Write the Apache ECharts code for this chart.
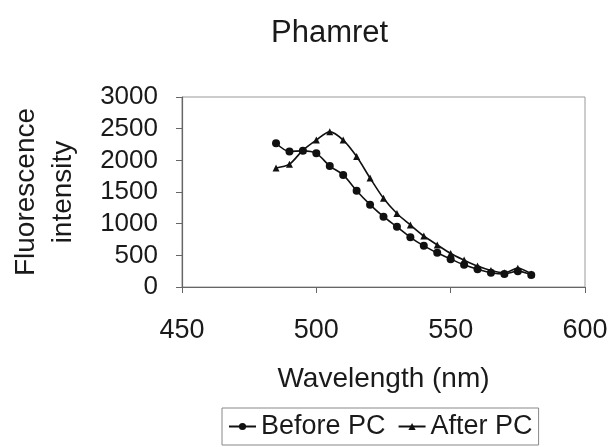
<!DOCTYPE html>
<html>
<head>
<meta charset="utf-8">
<script src="https://cdn.jsdelivr.net/npm/echarts@6/dist/echarts.min.js"></script>
<style>
    html, body {margin: 0; padding: 0; background: #fff;}
    #chart {width: 613px; height: 447px;}
</style>
</head>
<body>
<div id="chart"></div>
<script>
    // wavelength (nm) and intensities
    var wavelengths = [485, 490, 495, 500, 505, 510, 515, 520, 525, 530, 535, 540, 545, 550, 555, 560, 565, 570, 575, 580];
    var beforePC = [2270, 2140, 2150, 2110, 1910, 1770, 1520, 1300, 1110, 950, 785, 650, 540, 440, 350, 280, 225, 205, 250, 190];
    var afterPC = [1880, 1940, 2160, 2320, 2450, 2320, 2060, 1720, 1400, 1160, 980, 805, 665, 530, 425, 330, 260, 225, 295, 205];
    var xTicks = [450, 500, 550, 600];
    var yTicks = [0, 500, 1000, 1500, 2000, 2500, 3000];

    function pairs(ys) {
        return wavelengths.map(function (x, i) {
            return [x, ys[i]];
        });
    }

    var font = 'Liberation Sans, Arial, sans-serif';
    var chart = echarts.init(document.getElementById('chart'));
    var option = {
        animation: false,
        textStyle: {fontFamily: font, color: '#1a1a1a'},
        title: {
            text: 'Phamret',
            left: 266,
            top: 13,
            textStyle: {fontSize: 31, fontWeight: 'normal', color: '#1a1a1a', fontFamily: font}
        },
        grid: {
            left: 173,
            right: 28,
            top: 97,
            bottom: 160,
            show: true,
            borderColor: '#999',
            borderWidth: 1
        },
        legend: {
            left: 222,
            top: 408,
            orient: 'horizontal',
            padding: [5, 6, 5, 6],
            itemGap: 12,
            itemWidth: 27,
            itemHeight: 9,
            borderColor: '#888',
            borderWidth: 1,
            textStyle: {fontSize: 27, color: '#1a1a1a', fontFamily: font},
            data: ['Before PC', 'After PC']
        },
        xAxis: {
            type: 'value',
            min: xTicks[0],
            max: xTicks[xTicks.length - 1],
            interval: 50,
            name: 'Wavelength (nm)',
            nameLocation: 'middle',
            nameGap: 78,
            nameTextStyle: {fontSize: 28, color: '#1a1a1a'},
            axisLine: {lineStyle: {color: '#666', width: 1.2}},
            axisTick: {show: true, length: 6, lineStyle: {color: '#666'}},
            axisLabel: {fontSize: 27, color: '#1a1a1a', margin: 30},
            splitLine: {show: false}
        },
        yAxis: {
            type: 'value',
            min: yTicks[0],
            max: yTicks[yTicks.length - 1],
            interval: 500,
            name: 'Fluorescence\nintensity',
            nameLocation: 'middle',
            nameGap: 100,
            nameTextStyle: {fontSize: 28, color: '#1a1a1a', lineHeight: 37, align: 'center'},
            axisLine: {show: true, lineStyle: {color: '#666', width: 1.2}},
            axisTick: {show: true, length: 6, lineStyle: {color: '#666'}},
            axisLabel: {
                fontSize: 26,
                color: '#1a1a1a',
                margin: 24,
                formatter: function (v) { return String(v); }
            },
            splitLine: {show: false}
        },
        series: [
            {
                name: 'Before PC',
                type: 'line',
                data: pairs(beforePC),
                symbol: 'circle',
                symbolSize: 8,
                smooth: 0.3,
                itemStyle: {color: '#111'},
                lineStyle: {color: '#111', width: 1.6}
            },
            {
                name: 'After PC',
                type: 'line',
                data: pairs(afterPC),
                symbol: 'triangle',
                symbolSize: 7,
                smooth: 0.3,
                itemStyle: {color: '#111'},
                lineStyle: {color: '#111', width: 1.6}
            }
        ]
    };
    chart.setOption(option);
</script>
</body>
</html>
